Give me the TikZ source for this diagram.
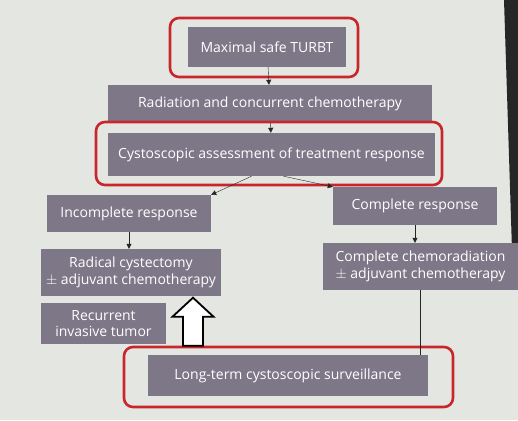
\documentclass[tikz,border=0pt]{standalone}
\usepackage{fontspec}
\setmainfont{Open Sans}
\definecolor{slidebg}{RGB}{228, 230, 225}
\definecolor{boxgray}{RGB}{126, 119, 136}
\definecolor{framered}{RGB}{200, 38, 44}
\usetikzlibrary{arrows.meta, positioning}

\begin{document}
\begin{tikzpicture}[
    x=1pt, y=-1pt,
    box/.style={rectangle, fill=boxgray, text=white, inner sep=0pt, align=center,
                font=\fontsize{14}{16.5}\selectfont},
    frame/.style={rectangle, rounded corners=9pt, draw=framered, line width=2.6pt, inner sep=0pt},
    arr/.style={-{Triangle[length=5pt, width=5pt]}, thin, color=black!85},
    lnk/.style={thin, color=black!85}
  ]
    \useasboundingbox[fill=slidebg] (0,0) rectangle (518,420);
    \fill[black!85] (504,0) -- (518,0) -- (518,250) -- (512,250) -- cycle;

    \node[box, minimum width=158pt, minimum height=40pt] (turbt) at (267,47) {Maximal safe TURBT};
    \node[box, minimum width=324pt, minimum height=38pt] (chemo) at (270,104) {Radiation and concurrent chemotherapy};
    \node[box, minimum width=327pt, minimum height=43pt] (assess) at (271.5,154.5) {Cystoscopic assessment of treatment response};
    \node[box, minimum width=164pt, minimum height=37pt] (incomp) at (129,213.5) {Incomplete response};
    \node[box, minimum width=164pt, minimum height=38pt] (comp) at (415,206) {Complete response};
    \node[box, minimum width=180pt, minimum height=47pt] (cystect) at (131,272.5) {Radical cystectomy\\$\pm$ adjuvant chemotherapy};
    \node[box, minimum width=195pt, minimum height=47pt] (chemorad) at (420.5,266.5) {Complete chemoradiation\\$\pm$ adjuvant chemotherapy};
    \node[box, minimum width=125pt, minimum height=41pt] (recur) at (103.5,323.5) {Recurrent\\invasive tumor};
    \node[box, minimum width=280pt, minimum height=41pt] (surv) at (288,375.5) {Long-term cystoscopic surveillance};

    % red highlight frames
    \node[frame, minimum width=188pt, minimum height=59pt] (frturbt) at (264,47.5) {};
    \node[frame, minimum width=346pt, minimum height=63pt] (frassess) at (269,153.5) {};
    \node[frame, minimum width=329pt, minimum height=60pt] (frsurv) at (288.5,377) {};

    \draw[arr] (turbt) -- (chemo);
    \draw[arr] (chemo) -- (assess);
    \draw[arr] ([xshift=-20pt]assess.south) -- (incomp.north east);
    \draw[arr] ([xshift=12pt]assess.south) -- (comp.north west);
    \draw[arr] (incomp.south) -- (incomp.south |- cystect.north);
    \draw[arr] (comp.south) -- (comp.south |- chemorad.north);
    \draw[lnk] (chemorad.south) -- (chemorad.south |- surv.north);

    % hollow arrow back to cystectomy
    \coordinate (up) at (frsurv.north -| 193,0);
    \draw[line width=1.8pt, fill=white, line join=miter]
      (up) ++(-10,0) -- ++(0,-29) -- ++(-10.5,0) -- ++(20.5,-19)
      -- ++(20.5,19) -- ++(-10.5,0) -- ++(0,29) -- cycle;
  \end{tikzpicture}
\end{document}
